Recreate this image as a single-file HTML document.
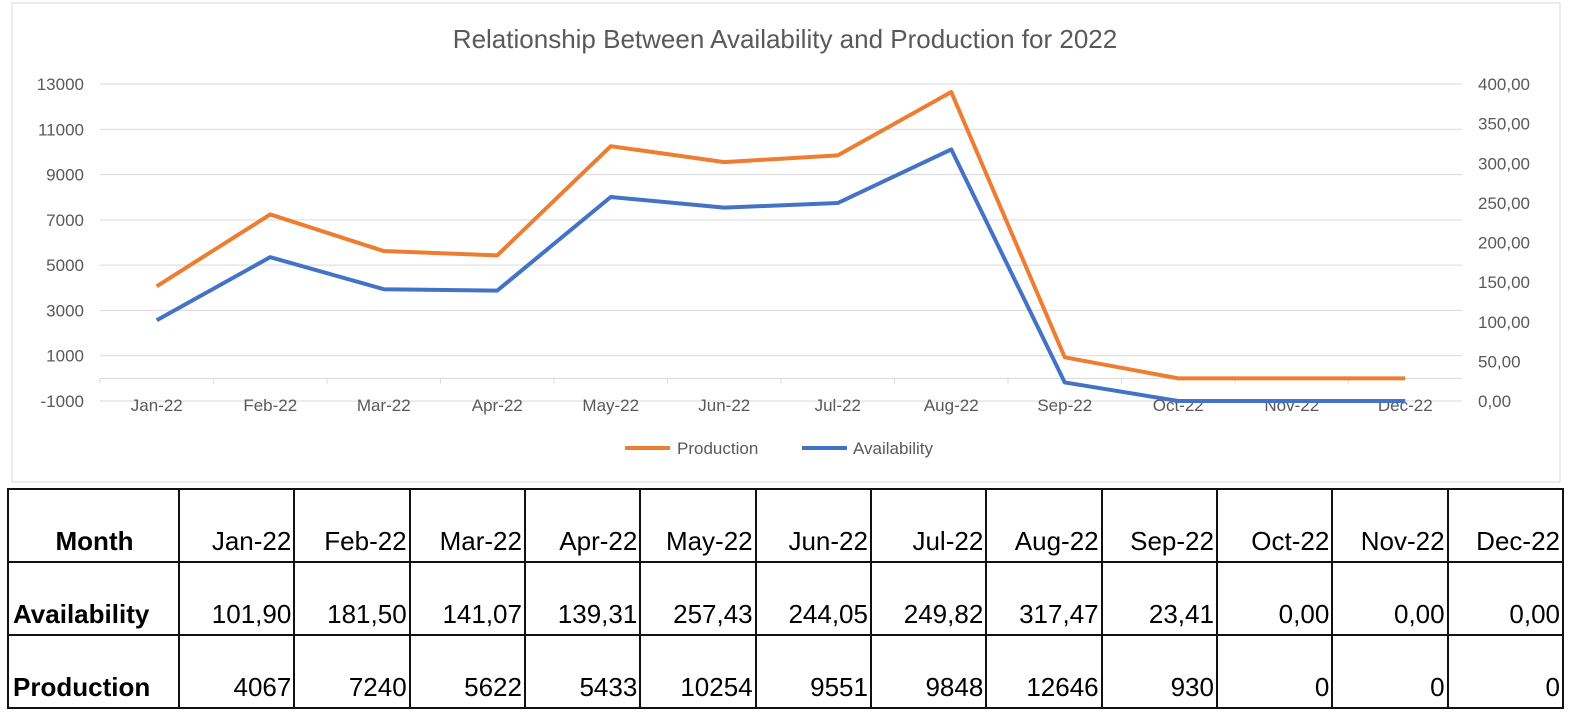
<!DOCTYPE html>
<html><head><meta charset="utf-8"><style>
body{margin:0;background:#fff;width:1571px;height:715px;overflow:hidden;font-family:"Liberation Sans",sans-serif}
svg{position:absolute;left:0;top:0}
table{position:absolute;left:7px;top:488px;width:1557px;table-layout:fixed;border-collapse:collapse;font-family:"Liberation Sans",Arial,sans-serif;font-size:26px}
td{border:2px solid #111;height:73px;padding:0 2px 4px 2px;vertical-align:bottom;text-align:right;box-sizing:border-box;white-space:nowrap;overflow:hidden}
td.h{width:171px;text-align:left;font-weight:bold;padding-left:4px}
tr:first-child td.h{text-align:center}
</style></head><body>
<svg width="1571" height="485" id="chart">
<rect x="12" y="3" width="1548" height="479" fill="#fff" stroke="#d9d9d9"/>
<text x="785" y="48" text-anchor="middle" font-size="26" fill="#595959" font-family="Liberation Sans,sans-serif">Relationship Between Availability and Production for 2022</text>
<g id="grid"></g><g id="axes"></g><g id="lines"></g>
<g>
<line x1="625" y1="448" x2="670" y2="448" stroke="#ed7d31" stroke-width="4"/>
<text x="677" y="454" font-size="17" fill="#595959">Production</text>
<line x1="802" y1="448" x2="847" y2="448" stroke="#4472c4" stroke-width="4"/>
<text x="853" y="454" font-size="17" fill="#595959">Availability</text>
</g>
</svg>
<table><tbody id="tb"></tbody></table>
<script>
const months=["Jan-22","Feb-22","Mar-22","Apr-22","May-22","Jun-22","Jul-22","Aug-22","Sep-22","Oct-22","Nov-22","Dec-22"];
const availability=[101.90,181.50,141.07,139.31,257.43,244.05,249.82,317.47,23.41,0,0,0];
const production=[4067,7240,5622,5433,10254,9551,9848,12646,930,0,0,0];
const leftTicks=[-1000,1000,3000,5000,7000,9000,11000,13000];
const rightTicks=[0,50,100,150,200,250,300,350,400];
const NS="http://www.w3.org/2000/svg";
const pl=100,pr=1462,pt=84,pb=401;
const xs=i=>pl+(pr-pl)/months.length*(i+0.5);
const yl=v=>pb-(v+1000)/14000*(pb-pt);
const yr=v=>pb-v/400*(pb-pt);
function mk(tag,attrs,parent){const e=document.createElementNS(NS,tag);for(const k in attrs)e.setAttribute(k,attrs[k]);document.getElementById(parent).appendChild(e);return e;}
leftTicks.forEach(t=>{
 const g=mk('line',{x1:pl,x2:pr,y1:yl(t),y2:yl(t),stroke:'#d9d9d9','stroke-width':1},'grid');
 
 
 const l=mk('text',{x:84,y:yl(t)+6,'text-anchor':'end','font-size':17,fill:'#595959'},'axes');
 l.textContent=t;
 
 
});
rightTicks.forEach(t=>{
 const l=mk('text',{x:1478,y:yr(t)+6,'font-size':17,fill:'#595959'},'axes');
 l.textContent=t.toFixed(2).replace('.',',');
 
 
});
const y0=yl(0);
const ax=mk('line',{x1:pl,x2:pr,y1:y0,y2:y0,stroke:'#d9d9d9','stroke-width':1},'axes');


months.forEach((m,i)=>{
 const tx=pl+(pr-pl)/months.length*i;
 const tk=mk('line',{x1:tx,x2:tx,y1:y0,y2:y0+5,stroke:'#d9d9d9'},'axes');
 
 
 const l=mk('text',{x:xs(i),y:411,'text-anchor':'middle','font-size':17,fill:'#595959'},'axes');
 l.textContent=m;
 
 
});
const pp=mk('polyline',{points:production.map((v,i)=>xs(i)+','+yl(v)).join(' '),fill:'none',stroke:'#ed7d31','stroke-width':4,'stroke-linejoin':'round'},'lines');


const ap=mk('polyline',{points:availability.map((v,i)=>xs(i)+','+yr(v)).join(' '),fill:'none',stroke:'#4472c4','stroke-width':4,'stroke-linejoin':'round'},'lines');


const tb=document.getElementById('tb');
[["Month",months],["Availability",availability.map(v=>v.toFixed(2).replace('.',','))],["Production",production.map(String)]].forEach(([h,vals])=>{
 const tr=document.createElement('tr');
 
 
 const th=document.createElement('td');th.className='h';th.textContent=h;
 
 
 tr.appendChild(th);
 vals.forEach(v=>{const td=document.createElement('td');td.textContent=v;
  
  
  tr.appendChild(td);});
 tb.appendChild(tr);
});
</script>
</body></html>
